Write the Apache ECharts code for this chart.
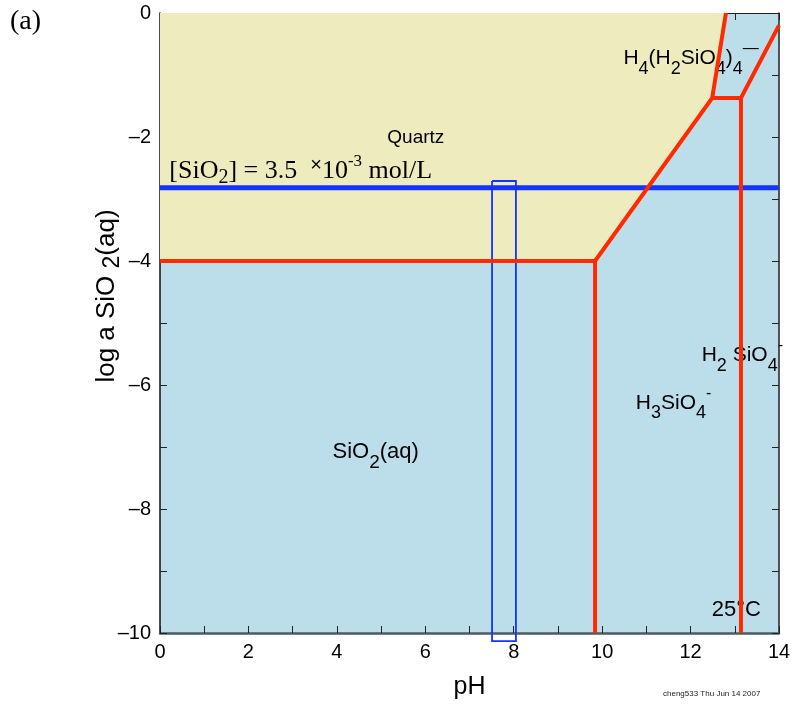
<!DOCTYPE html>
<html lang="en">
<head>
<meta charset="UTF-8">
<title>log a SiO2 vs pH</title>
<script src="https://cdn.jsdelivr.net/npm/echarts@6.0.0/dist/echarts.min.js"></script>
<style>
  body { margin: 0; background: #fff; }
  #main { width: 794px; height: 709px; }
</style>
</head>
<body>
<div id="main"></div>
<script>
// tick labels
var xTickLabels = [0, 2, 4, 6, 8, 10, 12, 14];
var yTickLabels = [0, -2, -4, -6, -8, -10];

// stability fields and boundaries (pH, log a SiO2)
var quartzField = [[0, 0], [0, -4], [9.84, -4], [12.49, -1.37], [12.8, 0]];
var quartzBoundary = [[0, -4], [9.84, -4], [12.49, -1.37], [12.8, 0]];
var firstDissociation = [[9.84, -4], [9.84, -10]];
var polymerBoundary = [[12.49, -1.37], [13.14, -1.37], [14, -0.2]];
var secondDissociation = [[13.14, -1.37], [13.14, -10]];

// solution concentration and pH window
var solutionLevel = [[0, -2.82], [14, -2.82]];
var phWindow = [[7.51, -2.71], [8.05, -2.71], [8.05, -10.13], [7.51, -10.13], [7.51, -2.71]];

var RED = '#ff2a00';
var sans = 'Liberation Sans, Arial, sans-serif';
var serif = 'Liberation Serif, Times New Roman, serif';

function sansRich(size) {
    return {
        n: { fontFamily: sans, fontSize: size, color: '#000' },
        s: { fontFamily: sans, fontSize: Math.round(size * 0.85), color: '#000', padding: [size, 0, 0, 0] },
        p: { fontFamily: sans, fontSize: Math.round(size * 0.75), color: '#000', padding: [0, 0, size - 2, 0] }
    };
}
var richSerif = {
    t: { fontFamily: serif, fontSize: 26, color: '#000' },
    ts: { fontFamily: serif, fontSize: 20, color: '#000', padding: [14, 0, 0, 0] },
    tp: { fontFamily: serif, fontSize: 17, color: '#000', padding: [0, 0, 20, 0] },
    x: { fontFamily: sans, fontSize: 20, color: '#000', padding: [0, 0, 12, 0] }
};

function lineSeries(data, color, width, z) {
    return {
        type: 'line', data: data, symbol: 'none', silent: true, z: z,
        clip: false,
        lineStyle: { color: color, width: width, join: 'miter', cap: 'butt' }
    };
}

function fieldText(x, y, text, rich) {
    return {
        value: [x, y],
        label: { show: true, position: 'right', distance: 0, formatter: text, rich: rich, color: '#000', opacity: 1 }
    };
}

var myChart = echarts.init(document.getElementById('main'));

var axisCommon = {
    type: 'value',
    interval: 1,
    nameMoveOverlap: false,
    axisTick: { show: true, inside: true, length: 7, lineStyle: { color: '#222', width: 1 } },
    splitLine: { show: false }
};

var option = {
    animation: false,
    backgroundColor: '#fff',
    grid: {
        left: 160, right: 15, top: 13, bottom: 76,
        containLabel: false, outerBoundsMode: 'none',
        show: true, backgroundColor: '#bcdeeb', borderWidth: 0
    },
    xAxis: [
        Object.assign({}, axisCommon, {
            min: 0, max: 14, position: 'bottom',
            name: 'pH', nameLocation: 'middle', nameGap: 42,
            nameTextStyle: { fontFamily: sans, fontSize: 25, color: '#000' },
            axisLine: { show: true, onZero: false, lineStyle: { color: '#4c5c63', width: 2.5 } },
            axisLabel: {
                margin: 9, fontFamily: sans, fontSize: 20, color: '#000',
                formatter: function (v) { return xTickLabels.indexOf(v) >= 0 ? String(v) : ''; }
            }
        }),
        Object.assign({}, axisCommon, {
            min: 0, max: 14, position: 'top',
            axisLine: { show: true, onZero: false, lineStyle: { color: '#222', width: 1 } },
            axisLabel: { show: false }
        })
    ],
    yAxis: [
        Object.assign({}, axisCommon, {
            min: -10, max: 0, position: 'left',
            name: '{n|log a SiO }{s|2}{n|(aq)}', nameLocation: 'middle', nameGap: 36, nameRotate: 90,
            nameTextStyle: {
                padding: [0, 0, 0, 54],
                rich: {
                    n: { fontFamily: sans, fontSize: 26, color: '#000' },
                    s: { fontFamily: sans, fontSize: 23, color: '#000', padding: [12, 0, 0, 0] }
                }
            },
            axisLine: { show: true, onZero: false, lineStyle: { color: '#111', width: 1.5 } },
            axisLabel: {
                margin: 9, fontFamily: sans, fontSize: 20, color: '#000',
                formatter: function (v) {
                    if (yTickLabels.indexOf(v) < 0) return '';
                    return v < 0 ? '\u2013' + Math.abs(v) : String(v);
                }
            }
        }),
        Object.assign({}, axisCommon, {
            min: -10, max: 0, position: 'right',
            axisLine: { show: true, onZero: false, lineStyle: { color: '#222', width: 1.5 } },
            axisLabel: { show: false }
        })
    ],
    graphic: [
        { type: 'text', left: 10, top: 8, style: { text: '(a)', font: '28px ' + serif, fill: '#000' } },
        { type: 'text', left: 663, top: 690, style: { text: 'cheng533 Thu Jun 14 2007', font: '8px ' + sans, fill: '#222' } }
    ],
    series: [
        {
            type: 'custom', silent: true, z: 1, clip: true,
            data: [0],
            renderItem: function (params, api) {
                var pts = quartzField.map(function (p) { return api.coord(p); });
                return { type: 'polygon', shape: { points: pts }, style: { fill: '#eeebbf' } };
            }
        },
        {
            type: 'scatter', silent: true, z: 2, symbolSize: 1,
            itemStyle: { color: 'transparent', opacity: 1 },
            data: [
                fieldText(5.13, -2.02, '{n|Quartz}', sansRich(19)),
                fieldText(0.2, -2.55, '{t|[SiO}{ts|2}{t|] = 3.5  }{x|×}{t|10}{tp|-3}{t| mol/L}', richSerif),
                fieldText(10.47, -0.73, '{n|H}{s|4}{n|(H}{s|2}{n|SiO}{s|4}{n|)}{s|4}{p|\u2014}', sansRich(21)),
                fieldText(12.24, -5.52, '{n|H}{s|2}{n| SiO}{s|4}{p|-}', sansRich(21)),
                fieldText(10.75, -6.29, '{n|H}{s|3}{n|SiO}{s|4}{p|-}', sansRich(21)),
                fieldText(3.89, -7.08, '{n|SiO}{s|2}{n|(aq)}', sansRich(22)),
                fieldText(12.47, -9.63, '{n|25°C}', sansRich(22))
            ]
        },
        lineSeries(solutionLevel, '#1433ff', 5, 3),
        lineSeries(phWindow, '#1433ff', 1.8, 3),
        lineSeries(quartzBoundary, RED, 4, 4),
        lineSeries(firstDissociation, RED, 4, 4),
        lineSeries(polymerBoundary, RED, 4, 4),
        lineSeries(secondDissociation, RED, 4, 4)
    ]
};

myChart.setOption(option);
</script>
</body>
</html>
